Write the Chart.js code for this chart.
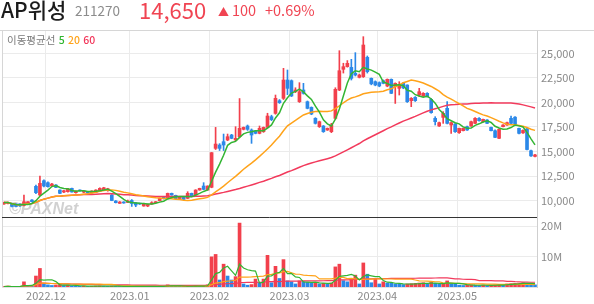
<!DOCTYPE html>
<html>
<head>
<meta charset="utf-8">
<script src="https://cdn.jsdelivr.net/npm/chart.js@4.4.0/dist/chart.umd.min.js"></script>
<style>
    html, body { margin: 0; padding: 0; background: #fff; }
    body { width: 594px; height: 304px; position: relative; overflow: hidden; font-family: 'Noto Sans CJK KR', 'Noto Sans', sans-serif; }
    #chart-div { position: absolute; left: 0; top: 0; width: 594px; height: 304px; }
    .hd { position: absolute; white-space: nowrap; line-height: 1; }
    #name { left: 1px; top: -1px; font-size: 21px; color: #1b1b1b; font-weight: 500; }
    #code { left: 75px; top: 4px; font-size: 13.5px; color: #8c8c8c; }
    #price { left: 139px; top: -2px; font-size: 22px; color: #f04452; }
    #arrow { left: 218px; top: 6px; font-size: 11px; color: #f04452; }
    #diff { left: 232px; top: 3px; font-size: 14.5px; color: #f04452; }
    #rate { left: 265px; top: 3px; font-size: 14.5px; color: #f04452; }
    #legend { left: 7px; top: 35px; font-size: 10.5px; color: #7a7a7a; }
    #legend b { font-weight: 500; margin-left: 1px; }
</style>
</head>
<body>
<div id="chart-div"><canvas id="price-chart" width="594" height="304"></canvas></div>
<div class="hd" id="name">AP위성</div>
<div class="hd" id="code">211270</div>
<div class="hd" id="price">14,650</div>
<div class="hd" id="arrow">▲</div>
<div class="hd" id="diff">100</div>
<div class="hd" id="rate">+0.69%</div>
<div class="hd" id="legend">이동평균선 <b style="color:#2fb52f">5</b> <b style="color:#ffa31a">20</b> <b style="color:#f2365a">60</b></div>
<script>
// trading days, Nov 2022 - May 2023
const dates = [
    '2022.11.16', '2022.11.17', '2022.11.18', '2022.11.21', '2022.11.22', '2022.11.23', '2022.11.24', '2022.11.25', '2022.11.28', '2022.11.29', '2022.11.30',
    '2022.12.01', '2022.12.02', '2022.12.05', '2022.12.06', '2022.12.07', '2022.12.08', '2022.12.09', '2022.12.12', '2022.12.13', '2022.12.14', '2022.12.15',
    '2022.12.16', '2022.12.19', '2022.12.20', '2022.12.21', '2022.12.22', '2022.12.23', '2022.12.26', '2022.12.27', '2022.12.28', '2022.12.29',
    '2023.01.02', '2023.01.03', '2023.01.04', '2023.01.05', '2023.01.06', '2023.01.09', '2023.01.10', '2023.01.11', '2023.01.12', '2023.01.13',
    '2023.01.16', '2023.01.17', '2023.01.18', '2023.01.19', '2023.01.20', '2023.01.25', '2023.01.26', '2023.01.27', '2023.01.30', '2023.01.31',
    '2023.02.01', '2023.02.02', '2023.02.03', '2023.02.06', '2023.02.07', '2023.02.08', '2023.02.09', '2023.02.10', '2023.02.13', '2023.02.14',
    '2023.02.15', '2023.02.16', '2023.02.17', '2023.02.20', '2023.02.21', '2023.02.22', '2023.02.23', '2023.02.24', '2023.02.27', '2023.02.28',
    '2023.03.02', '2023.03.03', '2023.03.06', '2023.03.07', '2023.03.08', '2023.03.09', '2023.03.10', '2023.03.13', '2023.03.14', '2023.03.15', '2023.03.16',
    '2023.03.17', '2023.03.20', '2023.03.21', '2023.03.22', '2023.03.23', '2023.03.24', '2023.03.27', '2023.03.28', '2023.03.29', '2023.03.30', '2023.03.31',
    '2023.04.03', '2023.04.04', '2023.04.05', '2023.04.06', '2023.04.07', '2023.04.10', '2023.04.11', '2023.04.12', '2023.04.13', '2023.04.14',
    '2023.04.17', '2023.04.18', '2023.04.19', '2023.04.20', '2023.04.21', '2023.04.24', '2023.04.25', '2023.04.26', '2023.04.27', '2023.04.28',
    '2023.05.02', '2023.05.03', '2023.05.04', '2023.05.08', '2023.05.09', '2023.05.10', '2023.05.11', '2023.05.12', '2023.05.15', '2023.05.16',
    '2023.05.17', '2023.05.18', '2023.05.19', '2023.05.22', '2023.05.23', '2023.05.24', '2023.05.25', '2023.05.26', '2023.05.30', '2023.05.31'
];

const opens = [
    9650, 9700, 9710, 9640, 9640, 9500, 9710, 10050, 11450, 10560, 12020,
    11820, 11480, 11580, 11070, 10870, 10900, 11240, 10800, 11070, 10850, 10900,
    10770, 10830, 10970, 11100, 11000, 10560, 9950, 9710, 9850, 9800,
    10000, 9780, 9700, 9440, 9440, 9640, 9780, 9980, 10390, 10220,
    10730, 10530, 10200, 10320, 10220, 10730, 10560, 11070, 11480, 11070,
    11350, 15320, 15660, 16000, 16170, 16680, 16170, 16510, 17260, 17600,
    17190, 17100, 16850, 17020, 17460, 18550, 18890, 20180, 20420, 22290,
    22220, 21100, 20080, 21270, 20080, 19500, 18380, 17530, 17600, 17190, 17020,
    18380, 21270, 23380, 23650, 23580, 22970, 22560, 22630, 24600, 22460, 22120,
    22020, 22220, 21680, 22360, 21610, 21440, 21950, 21780, 20180, 20520,
    20760, 20660, 20930, 20320, 18380, 17600, 18480, 19400, 17700, 17800,
    16920, 17120, 17530, 17600, 17870, 18380, 18040, 18210, 17460, 17120,
    16340, 17530, 17700, 18380, 18500, 17360, 16900, 17300, 15080, 14500
];
const highs = [
    9850, 9850, 9750, 9680, 9680, 10560, 9900, 10100, 11580, 12500, 12100,
    11900, 11750, 11620, 11100, 11050, 11250, 11280, 11000, 11100, 11000, 10950,
    11000, 11100, 11300, 11350, 11250, 10600, 10000, 9900, 9880, 10050,
    10100, 9800, 9720, 9720, 9650, 9880, 9900, 10250, 10420, 10760,
    10760, 10550, 10400, 10350, 10900, 10760, 11100, 11260, 11820, 11500,
    14900, 17460, 15800, 16780, 16780, 16750, 17530, 20400, 17500, 17700,
    17300, 17150, 17600, 17500, 18900, 18700, 20760, 20300, 23480, 23310,
    22300, 21500, 22020, 21950, 20150, 19550, 18450, 18100, 17650, 17400, 17870,
    21500, 25280, 24000, 24270, 24400, 25080, 22900, 26710, 24740, 22500, 22200,
    22100, 22300, 22400, 22400, 22000, 22120, 22050, 21800, 20500, 20600,
    21440, 21000, 21000, 20400, 18550, 18000, 19060, 20080, 18000, 17850,
    17400, 17400, 17600, 18100, 18450, 18450, 18300, 18250, 17500, 17200,
    17300, 17750, 18000, 18620, 18550, 17400, 17200, 17350, 15150, 14700
];
const lows = [
    9600, 9650, 9350, 9350, 9400, 9450, 9700, 9850, 10700, 10500, 11400,
    11350, 11450, 11300, 10700, 10800, 10850, 10850, 10750, 10950, 10800, 10750,
    10750, 10800, 10950, 11050, 10950, 9980, 9750, 9700, 9720, 9780,
    9400, 9370, 9600, 9420, 9370, 9620, 9760, 9960, 10150, 10200,
    10540, 10170, 10180, 10100, 10200, 10440, 10540, 11050, 11100, 11050,
    11300, 15200, 15100, 15100, 16100, 16300, 16100, 16400, 17200, 17150,
    15830, 16800, 16800, 16950, 17400, 18150, 18800, 19900, 20300, 20800,
    20600, 21000, 20000, 20850, 19350, 18750, 17800, 17450, 16950, 17150, 16920,
    18300, 21200, 23000, 23600, 22290, 22700, 22500, 22550, 23000, 21800, 21700,
    21600, 21900, 21600, 20900, 19900, 20760, 21400, 20000, 19570, 20100,
    20590, 20600, 20550, 18900, 17700, 17550, 17870, 17800, 16850, 16950,
    16850, 17100, 17150, 17550, 17850, 18100, 18000, 17850, 17100, 16400,
    16300, 17500, 17650, 17850, 17650, 16800, 16850, 15150, 14500, 14450
];
const closes = [
    9810, 9810, 9400, 9400, 9450, 9880, 9880, 9880, 10800, 11750, 11480,
    11410, 11680, 11340, 10730, 11000, 11200, 10870, 10970, 10970, 10970, 10770,
    10970, 11070, 11240, 11300, 11200, 10000, 9780, 9850, 9750, 9950,
    9700, 9540, 9640, 9710, 9600, 9780, 9880, 10220, 10190, 10730,
    10560, 10190, 10390, 10120, 10730, 10460, 11070, 11240, 11140, 11480,
    14880, 15760, 15320, 15660, 16510, 16340, 16340, 17360, 17460, 17260,
    16680, 16850, 17360, 17460, 18620, 18250, 20420, 19980, 22290, 21440,
    20660, 21270, 21100, 20930, 19400, 18820, 17870, 18040, 17020, 17360, 17700,
    21340, 23240, 23650, 23990, 22460, 22800, 22800, 25860, 23140, 21900, 21780,
    21680, 21950, 22360, 20930, 21950, 21780, 21500, 20080, 20420, 20180,
    21100, 20930, 20590, 18960, 18040, 17940, 18890, 17870, 17940, 17020,
    17360, 17360, 17190, 18040, 18380, 18140, 18280, 17870, 17120, 16440,
    17260, 17700, 17940, 17870, 17700, 16850, 17150, 15200, 14550, 14650
];
// volume, millions of shares
const volumeM = [
    0.15, 0.2, 0.15, 0.12, 0.15, 1.7, 0.3, 0.25, 3.6, 6.1, 1.0,
    0.7, 0.5, 0.6, 0.8, 0.5, 0.6, 0.4, 0.3, 0.25, 0.3, 0.2,
    0.25, 0.3, 0.35, 0.3, 0.25, 0.3, 0.25, 0.2, 0.15, 0.2,
    0.25, 0.2, 0.15, 0.15, 0.2, 0.2, 0.2, 0.3, 0.25, 0.7,
    0.3, 0.25, 0.2, 0.2, 0.3, 0.25, 0.35, 0.3, 0.4, 0.7,
    9.9, 10.7, 2.3, 7.5, 3.6, 2.3, 3.4, 21.0, 1.0, 0.6,
    0.8, 2.6, 1.4, 2.6, 10.4, 1.4, 6.8, 2.8, 9.0, 2.0,
    1.7, 1.0, 2.0, 1.7, 1.5, 1.3, 1.4, 1.0, 1.2, 0.9, 1.3,
    6.6, 7.5, 2.1, 1.7, 2.8, 3.9, 1.0, 7.9, 4.2, 1.4, 2.5,
    1.0, 1.7, 1.3, 1.2, 1.0, 0.9, 0.8, 1.0, 1.1, 1.2,
    1.3, 1.4, 1.0, 1.5, 1.2, 0.9, 1.1, 2.0, 1.2, 0.9,
    0.6, 0.5, 0.6, 0.7, 0.6, 0.5, 0.6, 0.5, 0.6, 0.7,
    0.8, 0.6, 1.0, 1.1, 1.2, 1.3, 1.4, 1.2, 0.9, 0.7
];

const priceTicks = [10000, 12500, 15000, 17500, 20000, 22500, 25000];
const volumeTicks = [10, 20];
const maPeriods = [5, 20, 60];

const UP = '#f2404c';
const DOWN = '#2b88e8';
const maColors = ['#33b533', '#ffa31a', '#f23a5c'];

function movingAverage(values, period) {
    return values.map((_, i) => {
        const windowValues = values.slice(Math.max(0, i - period + 1), i + 1);
        return windowValues.reduce((sum, v) => sum + v, 0) / windowValues.length;
    });
}

function isMonthStart(index) {
    return index > 0 && dates[index].slice(0, 7) !== dates[index - 1].slice(0, 7);
}

const candleColors = closes.map((c, i) => c >= opens[i] ? UP : DOWN);
const volumeColors = volumeM.map((v, i) => (i === 0 || v >= volumeM[i - 1]) ? UP : DOWN);

const priceMaDatasets = maPeriods.map((period, k) => ({
    type: 'line',
    data: movingAverage(closes, period),
    yAxisID: 'y',
    borderColor: maColors[k],
    borderWidth: 1.5,
    pointRadius: 0,
    tension: 0,
    order: 0
}));
const volumeMaDatasets = maPeriods.map((period, k) => ({
    type: 'line',
    data: movingAverage(volumeM, period),
    yAxisID: 'yv',
    borderColor: maColors[k],
    borderWidth: 1.2,
    pointRadius: 0,
    tension: 0,
    order: 0
}));

const chromePlugin = {
    id: 'chrome',
    beforeDatasetsDraw(chart) {
        const ctx = chart.ctx;
        ctx.save();
        ctx.fillStyle = 'rgba(140,140,140,0.4)';
        ctx.font = 'italic bold 16px "Liberation Sans", sans-serif';
        ctx.textBaseline = 'alphabetic';
        ctx.fillText('\u00a9PAXNet', 9, 214);
        ctx.restore();
    },
    afterDraw(chart) {
        const { ctx, chartArea: area, scales } = chart;
        ctx.save();
        ctx.lineWidth = 1;
        ctx.strokeStyle = '#d6d6d6';
        ctx.beginPath();
        ctx.moveTo(0, 30.5);
        ctx.lineTo(594, 30.5);
        ctx.moveTo(area.left + 0.5, 30);
        ctx.lineTo(area.left + 0.5, area.bottom);
        ctx.stroke();
        ctx.strokeStyle = '#333333';
        ctx.beginPath();
        ctx.moveTo(area.left, Math.round(scales.y.bottom) + 0.5);
        ctx.lineTo(area.right, Math.round(scales.y.bottom) + 0.5);
        ctx.stroke();
        ctx.restore();
    }
};

const tickFont = { size: 11, family: "'Noto Sans CJK KR', 'Noto Sans', sans-serif" };

const chartJSConfig = {
    type: 'bar',
    data: {
        labels: dates,
        datasets: [
            ...priceMaDatasets,
            {
                label: 'body',
                data: opens.map((o, i) => [o, closes[i]]),
                yAxisID: 'y',
                backgroundColor: candleColors,
                barThickness: 3,
                minBarLength: 1,
                grouped: false,
                order: 5
            },
            {
                label: 'wick',
                data: lows.map((l, i) => [l, highs[i]]),
                yAxisID: 'y',
                backgroundColor: candleColors,
                barThickness: 1,
                grouped: false,
                order: 6
            },
            {
                label: 'volume',
                data: volumeM,
                yAxisID: 'yv',
                backgroundColor: volumeColors,
                barThickness: 3,
                grouped: false,
                order: 7
            },
            ...volumeMaDatasets
        ]
    },
    options: {
        responsive: false,
        animation: false,
        devicePixelRatio: 1,
        layout: { padding: { top: 30, left: 2, right: 0, bottom: 0 } },
        plugins: { legend: { display: false }, tooltip: { enabled: false } },
        scales: {
            x: {
                offset: true,
                grid: {
                    offset: true,
                    drawTicks: false,
                    color: (c) => isMonthStart(c.index) ? '#ebebeb' : 'rgba(0,0,0,0)'
                },
                border: { color: '#e2e2e2' },
                ticks: {
                    autoSkip: false,
                    maxRotation: 0,
                    padding: 2,
                    labelOffset: -2,
                    color: '#8a8a8a',
                    font: tickFont,
                    callback: (value, index) => isMonthStart(index) ? dates[index].slice(0, 7) : ''
                },
                afterFit: (scale) => { scale.height = 17; }
            },
            y: {
                position: 'right',
                stack: 'panels',
                stackWeight: 187,
                min: 8320,
                max: 27390,
                afterBuildTicks: (scale) => { scale.ticks = priceTicks.map((v) => ({ value: v })); },
                grid: { color: '#ebebeb', drawTicks: false },
                border: { color: '#cfcfcf' },
                ticks: {
                    padding: 4,
                    color: '#8a8a8a',
                    font: tickFont,
                    callback: (v) => v.toLocaleString('en-US')
                },
                afterFit: (scale) => { scale.width = 57; }
            },
            yv: {
                position: 'right',
                stack: 'panels',
                stackWeight: 70,
                min: 0,
                max: 23,
                afterBuildTicks: (scale) => { scale.ticks = volumeTicks.map((v) => ({ value: v })); },
                grid: { color: '#ebebeb', drawTicks: false },
                border: { color: '#cfcfcf' },
                ticks: {
                    padding: 4,
                    color: '#8a8a8a',
                    font: tickFont,
                    callback: (v) => v + 'M'
                },
                afterFit: (scale) => { scale.width = 57; }
            }
        }
    },
    plugins: [chromePlugin]
};

const ctx = document.getElementById('price-chart').getContext('2d');
window.priceChart = new Chart(ctx, chartJSConfig);
</script>
</body>
</html>
